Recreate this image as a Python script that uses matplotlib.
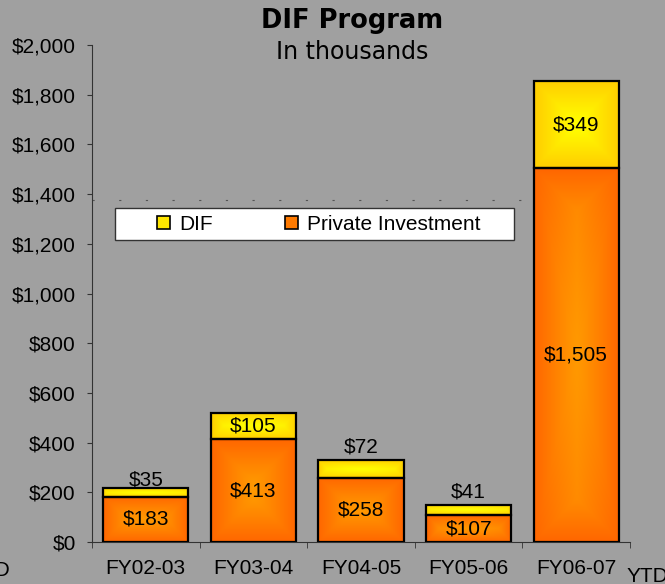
import numpy as np
import matplotlib.pyplot as plt
from matplotlib.patches import Rectangle, Patch
from matplotlib.colors import to_rgb

categories = ['FY02-03', 'FY03-04', 'FY04-05', 'FY05-06', 'FY06-07']
private = [183, 413, 258, 107, 1505]   # Private Investment ($K)
dif = [35, 105, 72, 41, 349]           # DIF ($K)
dif_label_lift = [12, 0, 22, 18, 0]    # px the small DIF labels sit above their segment

plt.rcParams['font.family'] = ['Liberation Sans', 'DejaVu Sans']
bg = '#A0A0A0'
W, H = 665, 584

fig = plt.figure(figsize=(W / 100, H / 100), dpi=100, facecolor=bg)
ax = fig.add_axes([92 / W, 42 / H, 538 / W, 497 / H])
ax.set_facecolor(bg)

bar_w = 0.79
px_per_cat = 538 / len(categories)
px_per_unit = 497 / 2000


def grad_segment(x, bottom, height, c_edge, c_mid):
    # excel style "from center" gradient, clipped to the bar rectangle
    rect = Rectangle((x - bar_w / 2, bottom), bar_w, height, facecolor='none',
                     edgecolor='black', lw=1.6, zorder=4)
    ax.add_patch(rect)
    hw = bar_w / 2 * px_per_cat
    hh = height / 2 * px_per_unit
    X, Y = np.meshgrid(np.linspace(-hw, hw, 200), np.linspace(-hh, hh, 300))
    d = np.minimum(hw - np.abs(X), hh - np.abs(Y))
    t_min = 1 - d / min(hw, hh)
    t_box = np.maximum(np.abs(X) / hw, np.abs(Y) / hh)
    t = np.clip(0.6 * t_min + 0.4 * t_box, 0, 1) ** 1.1
    e, m = np.array(to_rgb(c_edge)), np.array(to_rgb(c_mid))
    img = m[None, None, :] * (1 - t[..., None]) + e[None, None, :] * t[..., None]
    im = ax.imshow(img, extent=(x - bar_w / 2, x + bar_w / 2, bottom, bottom + height),
                   aspect='auto', zorder=3, interpolation='bilinear', origin='lower')
    im.set_clip_path(rect)


xs = np.arange(len(categories))
for i in xs:
    grad_segment(i, 0, private[i], '#FF6600', '#FF9900')
    grad_segment(i, private[i], dif[i], '#FFCC00', '#FFFF00')
    ax.annotate(f'${private[i]:,}', (i, private[i] / 2), ha='center', va='center',
                fontsize=15, zorder=5)
    ax.annotate(f'${dif[i]:,}', (i, private[i] + dif[i] / 2), xytext=(0, dif_label_lift[i] * 0.72),
                textcoords='offset points', ha='center', va='center', fontsize=15, zorder=5)

# faint dashed line left over behind the legend
ax.hlines(1376, -0.5, xs[-1] - bar_w / 2, colors='#555555', lw=0.8,
          linestyles=(0, (2, 22)), zorder=1)

ax.set_xlim(-0.5, len(categories) - 0.5)
ax.set_ylim(0, 2000)
ax.set_yticks(np.arange(0, 2001, 200))
ax.set_yticklabels([f'${v:,}' for v in range(0, 2001, 200)], fontsize=15)
ax.tick_params(axis='y', length=3.6, pad=8, color='#333333')
ax.set_xticks(xs)
ax.set_xticklabels(categories, fontsize=15)
ax.set_xticks(np.arange(-0.5, len(categories)), minor=True)
ax.tick_params(axis='x', which='major', length=0, pad=12)
ax.tick_params(axis='x', which='minor', length=4.5, color='#333333')
for s in ['top', 'right']:
    ax.spines[s].set_visible(False)
for s in ['left', 'bottom']:
    ax.spines[s].set_color('#333333')

# cut-off category text at the figure edges (as in the original)
fig.text(10 / W, 1 - 570 / H, 'YTD', ha='right', va='center', fontsize=15)
fig.text(627 / W, 1 - 577 / H, 'YTD', ha='left', va='center', fontsize=15)

# titles
fig.text(352 / W, 1 - 21 / H, 'DIF Program', ha='center', va='center', fontsize=18.5,
         fontweight='bold', family='DejaVu Sans')
fig.text(352 / W, 1 - 52 / H, 'In thousands', ha='center', va='center', fontsize=17,
         family='DejaVu Sans')

# legend: white box + entries
fig.patches.append(Rectangle((115 / W, 1 - 240 / H), 399 / W, 32 / H, transform=fig.transFigure,
                             facecolor='white', edgecolor='#333333', lw=1, zorder=6))
handles = [Patch(facecolor='#FFE600', edgecolor='black', lw=1.2),
           Patch(facecolor='#FF7A00', edgecolor='black', lw=1.2)]
leg = fig.legend(handles, ['DIF', 'Private Investment'], ncol=2, frameon=False,
                 loc='center left', bbox_to_anchor=(157 / W, 1 - 224 / H), fontsize=15,
                 handlelength=0.6, handleheight=0.6, handletextpad=0.45,
                 columnspacing=3.5, borderpad=0, borderaxespad=0)
leg.set_zorder(7)

fig.savefig('out.png', dpi=100, facecolor=bg)
